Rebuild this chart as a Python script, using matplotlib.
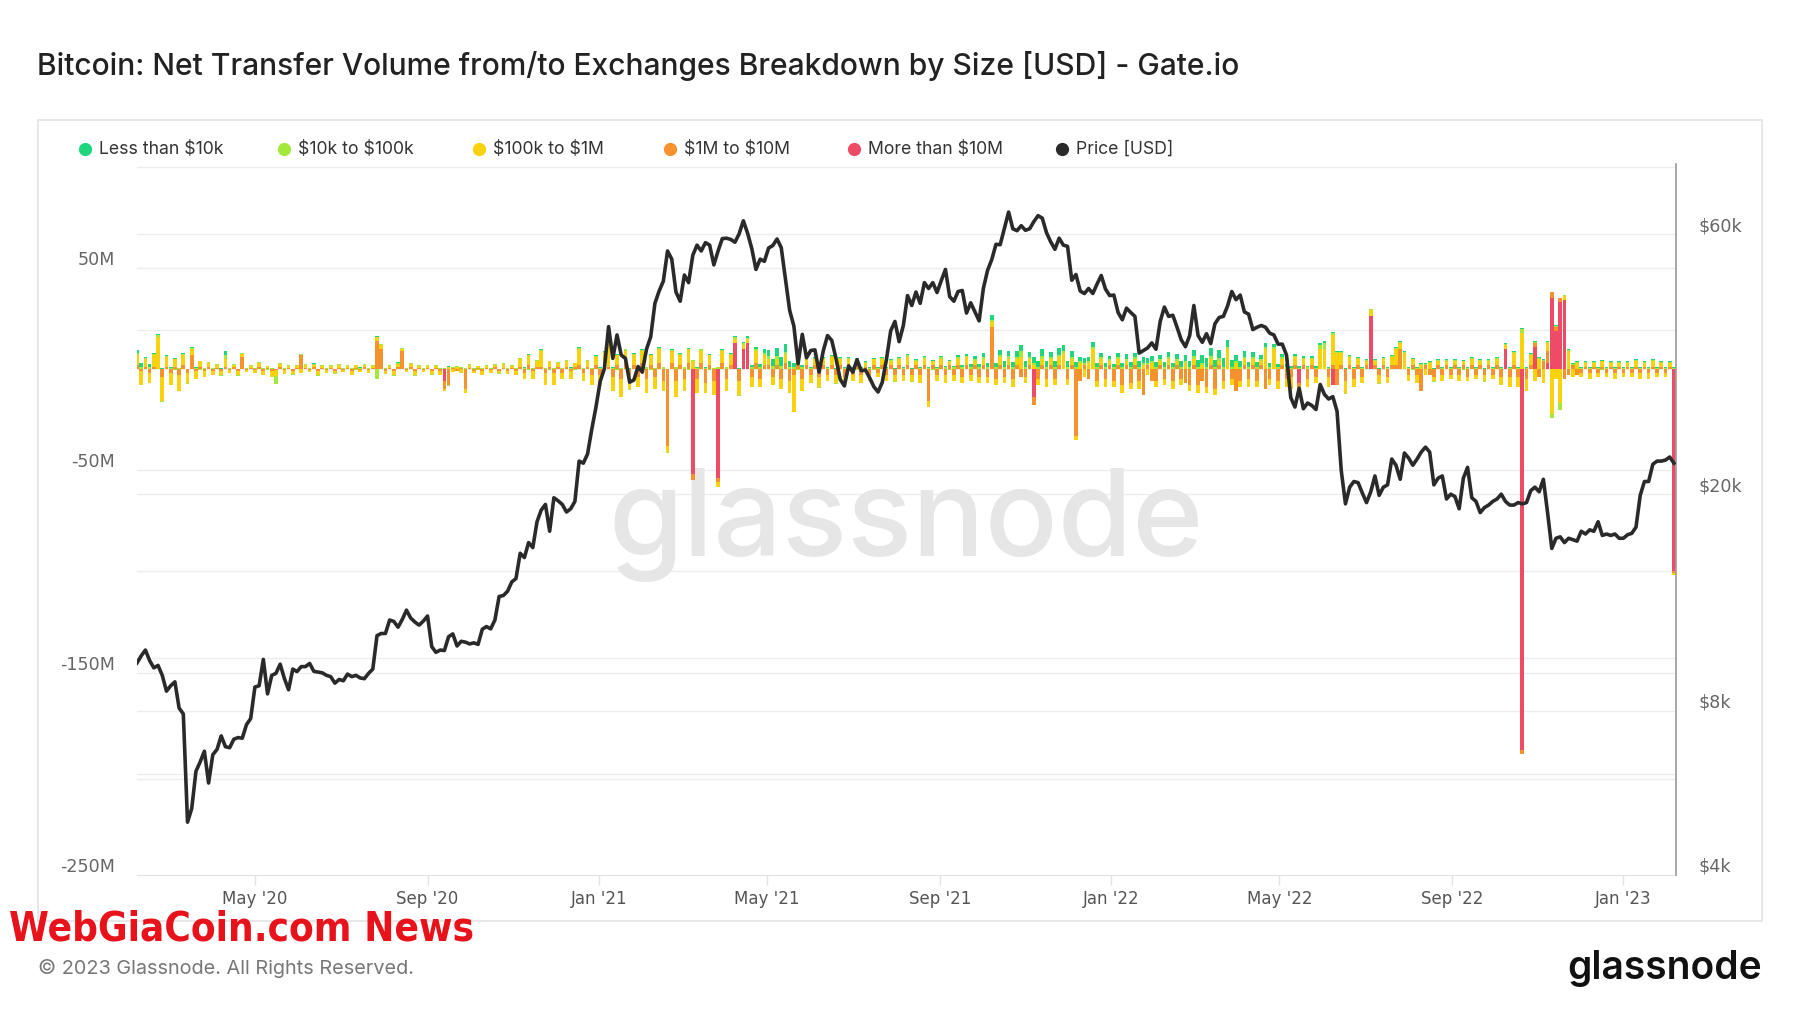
import numpy as np
import pandas as pd
import matplotlib
matplotlib.use("Agg")
import matplotlib.pyplot as plt
from matplotlib.transforms import blended_transform_factory, ScaledTranslation
from matplotlib.lines import Line2D
from matplotlib.patches import Rectangle

# ---------------- DATA ----------------
start_date = "2020-02-07"
step_days = 3

# BTC price [USD], every 3 days
price = [
    9800, 10100, 10350, 9900, 9600, 9700, 9300, 8700,
    8900, 9050, 8100, 7900, 5000, 5300, 6200, 6450, 6750, 5900,
    6650, 6800, 7200, 6880, 6850, 7100, 7150, 7130, 7550, 7750,
    8850, 8900, 9950, 8600, 9300, 9380, 9750, 9180, 8750, 9550, 9450,
    9650, 9650, 9780, 9460, 9430, 9400, 9300, 9250, 9000, 9140,
    9090, 9350, 9250, 9300, 9200, 9170, 9380, 9550, 11000, 11100,
    11100, 11750, 11680, 11400, 11780, 12250, 11850, 11650, 11500, 11700,
    11950, 10500, 10250, 10350, 10330, 10950, 11080, 10530, 10740, 10700,
    10620, 10670, 10600, 11300, 11430, 11320, 11750, 12980, 13030, 13270, 13800,
    14000, 15580, 15300, 16300, 15960, 17800, 18700, 19150, 17100, 19700,
    19450, 19150, 18550, 18800, 19400, 23000, 22800, 23700, 26300, 28900,
    32200, 34000, 40600, 35500, 39200, 36000, 35500, 32100, 32400, 34300,
    33500, 36900, 38900, 44800, 47200, 49200, 55900, 54000, 47000, 45200,
    50500, 48900, 54900, 57300, 55900, 57900, 57300, 52700, 55900, 58900,
    59000, 58700, 58000, 60100, 63500, 60300, 56500, 51700, 54000, 53500,
    56600, 57200, 58800, 56700, 49600, 43500, 40700, 34700, 39300, 35600,
    36700, 36800, 33500, 36700, 39100, 38300, 35500, 32500, 31600, 34400,
    33500, 35300, 33700, 33800, 32700, 31500, 30800, 32100, 35400, 39900, 41500,
    38100, 40800, 46300, 44400, 47000, 44800, 48900, 47700, 48900, 46900,
    49300, 51700, 46100, 45200, 47100, 47300, 43000, 44900, 43200, 41600,
    47700, 51500, 53900, 57500, 57400, 61500, 65900, 61400, 60900, 62200,
    61000, 61400, 63300, 64900, 64200, 60400, 58100, 56300, 59000, 57300,
    57000, 49400, 50600, 47200, 46700, 47700, 46700, 48600, 50400, 47600, 46300,
    46400, 43100, 41800, 43900, 43100, 42400, 36300, 36700, 37100, 37900,
    36900, 41500, 44100, 42400, 42600, 40500, 38400, 37300, 39100,
    44400, 39100, 38000, 39400, 37800, 41100, 42200, 42400, 44300, 47100, 45500,
    46400, 43200, 42800, 40100, 40500, 40800, 40500, 39500, 39200, 37700,
    37700, 36000, 30100, 28900, 31300, 28700, 29400, 29100, 28600, 31800,
    30500, 29900, 30200, 28400, 22100, 19200, 20600, 21100, 21000, 20100,
    19300, 20200, 21600, 19900, 20600, 20800, 23200, 22600, 21300, 23800,
    23300, 22600, 23200, 23900, 24400, 23900, 20800, 21400, 21600, 19600, 20000,
    19800, 18800, 21400, 22400, 19700, 19400, 18500, 18900, 19100, 19400,
    19600, 20000, 19400, 19100, 19100, 19300, 19200, 19300, 20300, 20600,
    20200, 21300, 18500, 15900, 16600, 16700, 16300, 16600, 16500, 16400,
    17100, 16900, 17200, 17100, 17800, 16800, 16900, 16800, 16900, 16600,
    16600, 16850, 16950, 17400, 19900, 21100, 21100, 22700, 23000, 23000, 23100,
    23400, 22800,
]

# Net transfer volume by size [M USD]
less_10k = [
    1.5, 2, 0.5, 1.5, 0.3, 0.3, 0.5, 0.3,
    0.3, 0.2, 0.2, 0.3, 0.2, 0.2, 0.3, 0.2, 0.2, 0.2,
    0.2, 0.2, 0.3, 2, 0.2, 0.2, 0.2, 0.2, 0.2, 0.2,
    0.2, 0.2, 0.3, 0.2, 0.2, 0.2, 0.2, 0.2, 0.2, 0.2, 0.2,
    0.2, 0.2, 0.2, 0.3, 0.2, 0.2, 0.2, 0.2, 0.2, 0.2,
    0.2, 0.2, 0.2, 0.2, 0.3, 0.2, 0.2, 0.2, 0.2, 0.2,
    0.2, 0.2, 0.2, 0.3, 0.2, 0.2, 0.2, 0.2, 0.2, 0.2,
    0.2, 0.2, 0.2, 0.2, 0.2, 0.3, 0.2, 0.2, 0.2, 0.2,
    0.2, 0.2, 0.2, 0.2, 0.2, 0.2, 0.3, 0.2, 0.2, 0.2, 0.2,
    0.2, 0.2, 0.3, 0.2, 0.2, 0.2, 0.2, 0.2, 0.2, 0.2,
    0.2, 0.2, 0.2, 0.3, 0.2, 0.2, 0.2, 0.2, 0.2, 0.2,
    0.3, 0.3, 0.2, 0.3, 0.3, 0.2, 0.3, 0.3, 0.3, 0.2,
    0.3, 0.3, 0.3, 0.2, 0.3, 0.3, 0.2, 0.3, 0.3, 0.3,
    0.3, 0.3, 0.2, 0.3, 0.3, 0.3, 0.3, 0.2, 0.3, 0.3,
    0.3, 0.3, 0.3, 0.5, 0.5, 0.8, 1, 1, 1.5, 2,
    3, 3.5, 4, 4.5, 4, 3, 2, 1.5, 1, 0.8,
    0.5, 0.5, 0.3, 0.5, 0.3, 0.3, 0.5, 0.3, 0.3, 0.3,
    0.3, 0.3, 0.3, 0.3, 0.3, 0.3, 0.5, 0.3, 0.3, 0.3, 0.3,
    0.3, 0.3, 0.5, 0.3, 0.3, 0.3, 0.5, 0.3, 0.3, 0.5,
    0.5, 0.8, 0.5, 0.8, 1, 1, 1, 1.5, 1.5, 1.5,
    2, 2, 2.5, 2, 2.5, 3, 2.5, 2.5, 3, 3,
    3, 2.5, 3, 3, 3.5, 3, 2.5, 3, 3.5, 3,
    3, 3, 2.5, 2, 2.5, 2, 2.5, 2, 2, 2, 1.5,
    1.5, 2, 2, 2.5, 2.5, 2, 3, 3, 2.5, 2.5,
    2.5, 2, 2.5, 2.5, 2, 2.5, 3, 3, 3,
    3, 3.5, 3.5, 4, 4, 3.5, 4, 4, 3.5, 3.5, 3,
    3, 3, 2.5, 2.5, 2.5, 2, 2, 2, 1.5, 1.5,
    1.5, 1.5, 1, 1, 1, 1, 0.8, 0.8, 0.8, 0.8,
    0.8, 0.5, 0.5, 0.5, 0.3, 0.3, 0.3, 0.3, 0.3, 0.3,
    0.3, 0.3, 0.3, 0.5, 0.3, 0.3, 0.3, 0.3, 0.5, 0.3,
    0.3, 0.3, 0.3, 0.3, 0.3, 0.5, 0.3, 0.3, 0.3, 0.3, 0.3,
    0.3, 0.3, 0.3, 0.3, 0.5, 0.3, 0.3, 0.3, 0.3, 0.3,
    0.3, 0.3, 0.3, 0.3, 0.3, 0.3, 0.3, 0.3, 0.3, 0.3,
    0.3, 0.3, 0.3, 0.3, 0.3, 0.3, 0.3, 0.3, 0.5, 0.3,
    0.3, 0.3, 0.5, 0.3, 0.3, 0.3, 0.3, 0.3, 0.3, 0.3,
    0.3, 0.3, 0.3, 0.5, 0.5, 0.5, 0.3, 0.5, 0.3, 0.3, 0.3,
    0.3, 0.3,
]

from_10k_to_100k = [
    1, 1, 0.5, 1, 0.5, 1, -0.5, 0.5,
    0.5, -0.5, 0.5, 0.5, -0.5, 0.5, 0.5, -0.5, 0.5, 0.3,
    0.3, 0.5, -0.3, 2, 0.3, 0.5, -0.3, 0.3, 0.5, 0.3,
    0.3, 0.5, 0.3, -0.3, 0.5, -4, 0.3, 0.5, 0.3, -0.3, 0.3,
    0.3, 0.5, 0.3, 0.5, -0.3, 0.3, 0.5, 0.3, -0.3, 0.3,
    0.3, 0.5, 0.3, -0.3, 0.5, 0.3, 0.3, 0.5, -5, 0.3,
    0.5, 0.3, -0.3, 0.5, 0.3, 0.5, 0.3, -0.3, 0.3, 0.5,
    0.3, -0.3, 0.5, 0.3, 0.5, -0.3, 0.3, 0.5, 0.3, 0.3,
    0.5, 0.3, -0.3, 0.3, 0.5, 0.3, 0.3, -0.3, 0.5, 0.3, 0.3,
    0.5, 0.3, 0.5, -0.3, 0.5, 0.3, 0.5, 0.3, -0.3, 0.5,
    0.5, 0.3, 0.5, 0.5, -0.3, 0.5, 0.5, 0.3, 0.5, 0.5,
    0.5, 0.5, 2, 0.5, -0.5, 0.5, 0.8, -0.5, 0.5, 0.5,
    0.5, 0.8, -0.5, 0.5, 0.5, 0.8, -0.5, 0.5, 0.8, 0.5,
    0.8, -0.5, 0.5, 0.5, 0.8, 0.5, -0.5, 0.5, 0.8, 0.5,
    0.8, 0.5, 0.8, -0.5, 0.8, 0.5, 0.8, 1, 0.8, 1,
    1.5, 1.5, 1.5, 1.5, 1.2, 1, 0.8, -0.5, 0.8, 0.5,
    0.5, 0.5, -0.5, 0.5, 0.5, 0.5, -0.5, 0.5, 0.5, 0.5,
    0.5, -0.5, 0.5, 0.5, 0.5, -0.5, 0.5, 0.5, 0.5, 0.5, -0.5,
    0.5, 0.5, 0.8, -0.5, 0.5, 0.5, 0.8, 0.5, -0.5, 0.5,
    0.8, 0.8, -0.5, 0.8, 0.8, 0.8, 0.5, 0.8, 1, 0.8,
    1, 1, 1, 1.2, 1, 1, 1.2, 1, 1, 3,
    1.2, 1, 1, 1.2, 1.2, 1, 1, 1.2, 1, 1,
    1, 1, 1, 0.8, 1, 0.8, 1, 0.8, 0.8, 1, 0.8,
    0.8, 1, 0.8, 1, 1, 0.8, 1, 1, 0.8, 1,
    1, 0.8, 1, 1, 0.8, 1, 1, 1, 1.2,
    1.2, 1.2, 1.2, 1.2, 1.2, 1, 1.2, 1.2, 1, 1, 1,
    1, 1, 1, 0.8, 0.8, 0.8, 0.8, 0.8, 0.8, 0.8,
    0.8, 0.8, 0.5, 0.5, 0.5, 0.5, 0.8, 0.5, 0.5, 2,
    3, 0.5, 1, 0.5, 0.5, -0.5, 0.5, 0.5, 0.5, 0.5,
    0.5, 0.5, 0.5, -0.5, 0.5, 0.5, 0.5, 0.5, 0.5, 0.5,
    0.5, -0.5, 0.5, 0.5, 0.5, 0.5, -0.5, 0.5, 0.5, 0.5, 0.5,
    0.5, 0.5, -0.5, 0.5, 0.5, 0.5, 0.5, -0.5, 0.5, 0.5,
    0.5, 0.5, 0.5, 0.5, 0.5, 0.5, 2, 0.5, 0.5, 0.5,
    0.5, 0.5, 0.5, -2, 0.5, -3, 0.5, 0.5, 0.5, 0.5,
    0.5, 0.5, 0.5, 0.5, 0.5, -0.5, 0.5, 0.5, 0.5, 0.5,
    0.5, 0.5, 0.5, 0.5, 0.5, 0.5, 0.5, 0.5, 0.5, 0.5, 0.5,
    0.5, 0.5,
]

from_100k_to_1m = [
    5, -7, 4, -5, 6, 16, -12, 5,
    -6, 4, -8, 5, -5, 3, -4, 3, -3, 2,
    -2, 1.5, -2, 4, -1.5, 1, -2, 1.5, -1, 1,
    -1.5, 2, -2, 1, -3, -3, 1.5, -2, 1, -1.5, 1,
    -2, 1.5, -1, 1, -2, 1, -1.5, 1, -1, 1.5,
    -1, 1, -2, 1.5, -1, 1, -1.5, 1, 2, 2,
    -1.5, 1, -2, 1.5, 1, -1, 1.5, -2, 1, -1,
    1, -1.5, 1, -2, -1, 1, -1.5, 1, -2, -2,
    1.5, -1, 1, -2, 1, -1.5, 1, -1, 2, -1.5, 1,
    -2, 4, -3, 5, -4, 3, 8, -6, 3, -6,
    2, -3, 3, -4, 2, 8, -4, 3, -5, 4,
    -5, 6, 18, -7, 5, -9, 6, -6, 5, -5,
    6, -7, 5, -6, 7, -5, -3, 6, -8, 5,
    -6, 7, 4, -7, 6, -5, 5, -7, -2.5, 6,
    -6, 5, 2, -7, 2, 2, -5, 6, -4, 5,
    3, -4, 3, -5, 4, -6, -18, 5, -6, 4,
    -4, 3, -5, 3, -3, 4, -4, 3, -5, 3,
    -3, 3, -4, 2, -3, 3, -2, 3, -3, 2, -3,
    3, -3, 4, -3, 2, -4, 3, -3, 2, -3,
    3, -4, 2, -3, 3, -3, 4, -3, 2, -3,
    3, -3, 2, -3, 4, -3, 3, -4, 3, 6,
    -3, 3, 2, -3, 3, -4, 3, -3, 4, 8,
    -3, 3, -2, 3, -4, 3, 10, -3, 3, -4, 2,
    -3, 3, -4, 2, -3, 3, -4, 2, -3, 3,
    -3, 2, -3, 3, -4, 2, -3, 3, -3,
    3, -4, 2, -3, 3, -3, 2, -4, 10, -3, 3,
    -3, 3, -4, 3, -3, 2, 10, -3, 10, -4,
    3, -4, -6, 4, -5, 3, -4, 3, -3, 10,
    10, -5, 15, 8, 6, -6, 4, -4, 3, -3,
    2, 3, 2, -4, 3, -3, 4, 8, 3, 8,
    -3, 3, -4, 2, -3, 3, -2, 2, -3, 2, -2,
    2, -3, 2, -2, 3, -2, 2, -3, 2, -2,
    3, -4, 2, -5, 6, -5, 18, -6, 5, -6,
    5, -7, 4, -22, -5, -17, 2, 9, -4, 3,
    -2, 2, -3, 2, -2, 3, -2, 2, -3, 2,
    -2, 2, -2, 3, -3, 2, -3, 3, -2, 2, -2,
    2, -1,
]

from_1m_to_10m = [
    2, -1, 1, -2, 1, 0, -4, 1,
    -2, 1, -3, 2, -2, 7, -1, 1, -1, 1,
    -1, 0.5, -1, 1, -0.5, 1, -1, 6, -0.5, 0.5,
    -0.5, 1, -1, 0.5, -1, -0.5, 1, -0.5, 0.5, -1, 0.5,
    7, 0.5, -0.5, 1, -1, 0.5, -0.5, 0.5, -1, 0.5,
    -0.5, 0.5, -1, 0.5, -0.5, 1, -0.5, 0.5, 14, 10,
    -1, 0.5, -1, 1, 9, -0.5, 1, -1, 0.5, -0.5,
    0.5, -1, 0.5, -1, -4, -8, 0.5, -1, 0.5, -10,
    0.5, -1, 0.5, -1, 0.5, -0.5, 1, -1, 0.5, -1, 0.5,
    -1, 1, -2, 2, -1, 1, 1, -2, 1, -2,
    1, -2, 1, -1, 1, 2, -2, 1, -3, 2,
    -3, 2, 1, -4, 2, -5, 3, -4, 2, -4,
    3, -5, 2, -4, 3, -6, -38, 3, -6, 2,
    -5, 3, -3, -5, 3, -7, 2, -6, -2, 3,
    -5, 2, 0, -6, 0, 0, -4, 3, -5, 2,
    2, -4, 2, -5, 3, -6, -3, 2, -5, 2,
    -3, 2, -4, 2, -3, 2, -3, 2, -4, 2,
    -3, 2, -3, 1, -3, 2, -2, 2, -3, 2, -3,
    2, -3, 2, -3, 2, -3, 2, -16, 2, -3,
    2, -3, 2, -3, 2, -4, 2, -3, 2, -4,
    2, -4, 21, -5, 2, -4, 2, -5, 2, -4,
    -4, 2, -4, -5, 2, -5, 2, -5, 2, 0,
    -5, 2, -33, -6, 2, -5, 0, -6, 2, -5, 2,
    -6, 2, -8, 2, -7, 2, -6, -13, 2, -6,
    -6, 2, -5, 2, -6, 2, -5, -7, -8,
    2, -8, -6, -9, 2, -10, 2, -6, 0, -5, -11,
    -6, 2, -5, 2, -6, 2, -10, -5, 0, -6,
    2, -5, -4, 2, -2, 2, -5, 2, -4, 0,
    0, -4, 2, -8, 2, -6, 2, -5, 2, -4,
    2, 0, 2, -3, 2, -4, 2, 2, 10, 0,
    -3, 2, -3, -11, 2, -3, -4, 2, -3, 2, -3,
    2, -3, 2, -4, 2, -3, 2, -3, 2, -3,
    2, -4, 0, -4, 2, -4, -2, -5, 2, 2,
    -4, 4, 6, 3, 2, 2, -5, -3, 2, -3,
    -2, 1, -2, 1, -2, 1, -2, 1, -2, 1,
    -2, 1, -2, 1, -2, 1, -2, 1, -2, 1, -2,
    1, -1,
]

# "More than $10M" is zero except on these days
more_10m_dates = ["2020-09-13", "2021-03-09", "2021-03-27", "2021-04-08", "2021-04-14",
                  "2021-04-17", "2021-11-07", "2022-05-15", "2022-06-08", "2022-07-05",
                  "2022-10-09", "2022-10-21", "2022-10-30", "2022-11-08", "2022-11-11",
                  "2022-11-14", "2022-11-17", "2022-11-20", "2023-02-06"]
more_10m_values = [-6, -52, -54, 13, 10, 13, -14, -7, -8, 26,
                   10, -188, 11, 3, 35, 19, 33, 34, -100]

series_names = ["Less than $10k", "$10k to $100k", "$100k to $1M", "$1M to $10M",
                "More than $10M", "Price [USD]"]

xtick_dates = ["2020-05-01", "2020-09-01", "2021-01-01", "2021-05-01", "2021-09-01",
               "2022-01-01", "2022-05-01", "2022-09-01", "2023-01-01"]
xtick_labels = ["May '20", "Sep '20", "Jan '21", "May '21", "Sep '21",
                "Jan '22", "May '22", "Sep '22", "Jan '23"]
left_ticks = [-250, -150, -50, 50]
left_tick_labels = ["-250M", "-150M", "-50M", "50M"]
right_ticks = [4000, 8000, 20000, 60000]
right_tick_labels = ["$4k", "$8k", "$20k", "$60k"]
right_grid = [6000, 8000, 10000, 20000, 40000, 60000]

# ---------------- BUILD ----------------
n = len(price)
for arr in (less_10k, from_10k_to_100k, from_100k_to_1m, from_1m_to_10m):
    assert len(arr) == n, len(arr)
dates = pd.date_range(start_date, periods=n, freq=f"{step_days}D")
more_10m = np.zeros(n)
for d, v in zip(more_10m_dates, more_10m_values):
    idx = int(np.argmin(np.abs((dates - pd.Timestamp(d)).days)))
    more_10m[idx] += v

colors = ["#1fd67c", "#a4e83c", "#f8d20c", "#f5922e", "#ee4b66", "#2a2a2a"]
stack = [  # drawn from zero outward
    (more_10m, colors[4]),
    (np.array(from_1m_to_10m, float), colors[3]),
    (np.array(from_100k_to_1m, float), colors[2]),
    (np.array(from_10k_to_100k, float), colors[1]),
    (np.array(less_10k, float), colors[0]),
]

W, H = 1800, 1013
FONT = "Inter"
fig = plt.figure(figsize=(W / 100, H / 100), dpi=100)
fig.patch.set_facecolor("white")

def fx(x):
    return x / W

def fy(y):
    return 1 - y / H

# chart frame
fig.add_artist(Rectangle((fx(38), fy(921)), fx(1762) - fx(38), fy(120) - fy(921),
                         transform=fig.transFigure, fill=False, edgecolor="#e3e3e3",
                         linewidth=1.2, zorder=0))

ax = fig.add_axes([fx(137), fy(875), fx(1676) - fx(137), fy(164) - fy(875)])
ax.set_facecolor("none")
ax2 = ax.twinx()

# bars
pos_bottom = np.zeros(n)
neg_bottom = np.zeros(n)
for vals, col in stack:
    pos = np.clip(vals, 0, None)
    neg = np.clip(vals, None, 0)
    ax.bar(dates, pos, bottom=pos_bottom, width=2.6, color=col, linewidth=0, zorder=3)
    ax.bar(dates, neg, bottom=neg_bottom, width=2.6, color=col, linewidth=0, zorder=3)
    pos_bottom += pos
    neg_bottom += neg

ax.set_ylim(-250, 101.3)
ax.set_xlim(dates[0], dates[-1] + pd.Timedelta(days=1.5))

# left gridlines
for lvl in np.arange(-200, 101, 50):
    ax.axhline(lvl, color="#ededed", linewidth=1.0, zorder=0)

# price
ax2.plot(dates, price, color=colors[5], linewidth=2.6, zorder=5, solid_joinstyle="round")
ax2.set_yscale("log")
ax2.set_ylim(4000, 80730)
ax2.minorticks_off()
ax2.set_yticks(right_ticks)
ax2.set_yticklabels([s.replace("$", r"\$") for s in right_tick_labels])

btr = blended_transform_factory(ax.transAxes, ax2.transData)
for p in right_grid:
    ax.plot([0, 1], [p, p], transform=btr, color="#ededed", linewidth=1.0, zorder=0)

# watermark
ax.text(0.5, fy(556), "glassnode", transform=blended_transform_factory(ax.transAxes, fig.transFigure),
        ha="center", va="baseline", fontsize=87, color="#e6e6e6", family=FONT,
        fontweight="medium", zorder=1)

# axes styling
for sp in ["top", "left"]:
    ax.spines[sp].set_visible(False)
    ax2.spines[sp].set_visible(False)
ax.spines["right"].set_visible(False)
ax.spines["bottom"].set_color("#e3e3e3")
ax2.spines["bottom"].set_visible(False)
ax2.spines["right"].set_color("#a0a0a0")
ax2.spines["right"].set_linewidth(1.3)

ax.set_yticks(left_ticks)
ax.set_yticklabels(left_tick_labels)
ax.tick_params(axis="y", length=0, pad=16, labelsize=12.6, labelcolor="#666666")
ax2.tick_params(axis="y", length=0, pad=16, labelsize=12.6, labelcolor="#666666")
for lab in ax.get_yticklabels() + ax2.get_yticklabels():
    lab.set_fontfamily("DejaVu Sans")
    lab.set_transform(lab.get_transform() + ScaledTranslation(0, 10 / 100, fig.dpi_scale_trans))

ax.set_xticks(pd.to_datetime(xtick_dates))
ax.set_xticklabels(xtick_labels)
ax.tick_params(axis="x", length=7, width=1, color="#e3e3e3", pad=4, labelsize=12,
               labelcolor="#555555")
for lab in ax.get_xticklabels():
    lab.set_fontfamily("DejaVu Sans")

# title
fig.text(fx(37), fy(66), "Bitcoin: Net Transfer Volume from/to Exchanges Breakdown by Size [USD] - Gate.io",
         fontsize=21.6, family=FONT, fontweight="medium", color="#222222", va="center", ha="left")

# legend
dot_x = [85, 284, 479, 670, 854, 1062]
for xx, name, col in zip(dot_x, series_names, colors):
    fig.add_artist(Line2D([fx(xx)], [fy(149)], marker="o", markersize=8.5, color=col,
                          linestyle="none", transform=fig.transFigure))
    fig.text(fx(xx + 14), fy(149), name.replace("$", r"\$"), fontsize=12.7, family=FONT,
             color="#333333", va="center", ha="left")

# footer
fig.text(fx(9), fy(929), "WebGiaCoin.com News", fontsize=29, fontweight="bold",
         family="DejaVu Sans", fontstretch="condensed", color="#e8121b", va="center", ha="left")
fig.text(fx(38), fy(968), "© 2023 Glassnode. All Rights Reserved.", fontsize=14.3, family=FONT,
         color="#777777", va="center", ha="left")
fig.text(fx(1762), fy(968), "glassnode", fontsize=28, family=FONT, fontweight="semibold",
         color="#111111", va="center", ha="right")

fig.savefig("out.png", dpi=100, facecolor="white")
